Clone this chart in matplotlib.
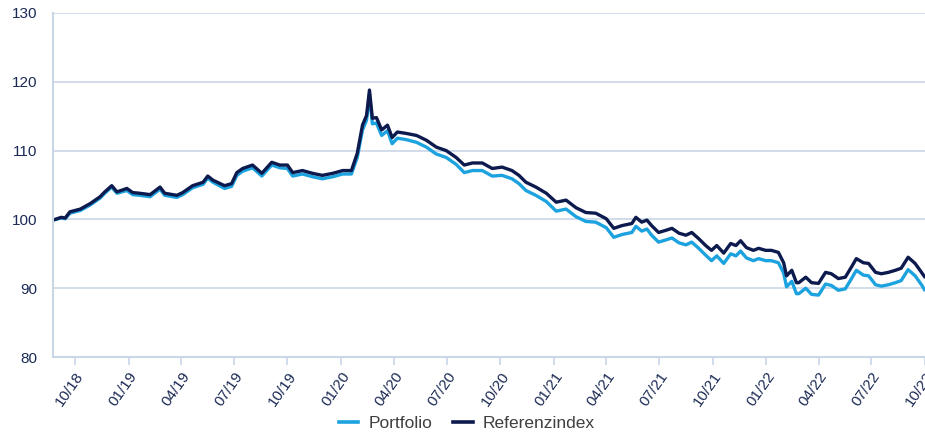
import matplotlib
matplotlib.use("Agg")
import matplotlib.pyplot as plt
import pandas as pd

dates = [
    "2018-08-28", "2018-09-07", "2018-09-14", "2018-09-22", "2018-10-10", "2018-10-27",
    "2018-11-13", "2018-11-21", "2018-12-03", "2018-12-12", "2018-12-29", "2019-01-08",
    "2019-01-20", "2019-02-07", "2019-02-24", "2019-03-04", "2019-03-25", "2019-04-04",
    "2019-04-21", "2019-05-09", "2019-05-17", "2019-05-26", "2019-06-15", "2019-06-27",
    "2019-07-06", "2019-07-16", "2019-08-02", "2019-08-18", "2019-09-04", "2019-09-18",
    "2019-10-01", "2019-10-10", "2019-10-27", "2019-11-13", "2019-11-30", "2019-12-18",
    "2020-01-04", "2020-01-19", "2020-01-29", "2020-02-07", "2020-02-14", "2020-02-19",
    "2020-02-24", "2020-03-02", "2020-03-11", "2020-03-21", "2020-03-29", "2020-04-07",
    "2020-04-22", "2020-05-10", "2020-05-27", "2020-06-13", "2020-06-30", "2020-07-17",
    "2020-07-31", "2020-08-14", "2020-08-31", "2020-09-17", "2020-10-04", "2020-10-21",
    "2020-11-02", "2020-11-14", "2020-12-01", "2020-12-19", "2021-01-05", "2021-01-22",
    "2021-02-08", "2021-02-25", "2021-03-14", "2021-04-01", "2021-04-14", "2021-04-28",
    "2021-05-15", "2021-05-22", "2021-06-01", "2021-06-10", "2021-06-18", "2021-06-30",
    "2021-07-12", "2021-07-23", "2021-08-04", "2021-08-16", "2021-08-26", "2021-09-07",
    "2021-09-19", "2021-09-29", "2021-10-08", "2021-10-20", "2021-11-01", "2021-11-10",
    "2021-11-18", "2021-11-28", "2021-12-10", "2021-12-19", "2021-12-31", "2022-01-10",
    "2022-01-22", "2022-01-31", "2022-02-05", "2022-02-14", "2022-02-22", "2022-02-26",
    "2022-03-10", "2022-03-20", "2022-04-01", "2022-04-13", "2022-04-23", "2022-05-05",
    "2022-05-17", "2022-05-27", "2022-06-05", "2022-06-17", "2022-06-26", "2022-07-08",
    "2022-07-18", "2022-07-30", "2022-08-11", "2022-08-21", "2022-09-02", "2022-09-14",
    "2022-09-25", "2022-09-30",
]

referenzindex = [
    100.0, 100.3, 100.2, 101.1, 101.5, 102.3,
    103.3, 104.0, 104.9, 104.0, 104.5, 103.9,
    103.8, 103.6, 104.7, 103.8, 103.5, 103.9,
    104.9, 105.4, 106.3, 105.7, 104.9, 105.2,
    106.8, 107.4, 107.9, 106.7, 108.3, 107.9,
    107.9, 106.8, 107.1, 106.7, 106.4, 106.7,
    107.1, 107.1, 109.6, 113.7, 115.1, 118.8,
    114.7, 114.8, 113.0, 113.7, 111.9, 112.7,
    112.5, 112.2, 111.5, 110.5, 110.0, 109.0,
    107.9, 108.2, 108.2, 107.4, 107.6, 107.1,
    106.4, 105.4, 104.7, 103.8, 102.5, 102.8,
    101.7, 101.0, 100.9, 100.1, 98.7, 99.1,
    99.4, 100.3, 99.6, 99.9, 99.1, 98.1,
    98.4, 98.7, 98.0, 97.7, 98.1, 97.2,
    96.2, 95.5, 96.2, 95.1, 96.5, 96.2,
    96.9, 95.9, 95.5, 95.8, 95.5, 95.5,
    95.2, 93.7, 91.8, 92.6, 90.8, 90.8,
    91.6, 90.8, 90.7, 92.3, 92.1, 91.4,
    91.6, 93.0, 94.3, 93.7, 93.6, 92.3,
    92.1, 92.3, 92.6, 92.9, 94.5, 93.6,
    92.3, 91.7,
]

portfolio = [
    100.0, 100.2, 100.1, 100.9, 101.3, 102.1,
    103.1, 103.8, 104.7, 103.8, 104.2, 103.6,
    103.5, 103.3, 104.4, 103.5, 103.2, 103.6,
    104.6, 105.1, 106.0, 105.4, 104.5, 104.8,
    106.4, 107.0, 107.5, 106.3, 107.9, 107.5,
    107.4, 106.3, 106.6, 106.2, 105.9, 106.2,
    106.6, 106.6, 109.0, 113.0, 114.4, 118.1,
    113.9, 114.0, 112.2, 112.9, 111.0, 111.8,
    111.6, 111.2, 110.5, 109.5, 109.0, 108.0,
    106.8, 107.1, 107.1, 106.3, 106.4, 105.9,
    105.2, 104.2, 103.5, 102.6, 101.2, 101.5,
    100.4, 99.7, 99.6, 98.8, 97.4, 97.8,
    98.1, 99.0, 98.3, 98.6, 97.7, 96.7,
    97.0, 97.3, 96.6, 96.3, 96.7, 95.8,
    94.8, 94.0, 94.7, 93.6, 95.0, 94.7,
    95.4, 94.4, 94.0, 94.3, 94.0, 94.0,
    93.7, 92.2, 90.2, 91.0, 89.2, 89.2,
    90.0, 89.1, 89.0, 90.6, 90.4, 89.7,
    89.9, 91.3, 92.6, 91.9, 91.8, 90.5,
    90.3, 90.5, 90.8, 91.1, 92.7, 91.8,
    90.5, 89.8,
]

tick_dates = ["2018-10-01", "2019-01-01", "2019-04-01", "2019-07-01", "2019-10-01",
              "2020-01-01", "2020-04-01", "2020-07-01", "2020-10-01", "2021-01-01",
              "2021-04-01", "2021-07-01", "2021-10-01", "2022-01-01", "2022-04-01",
              "2022-07-01", "2022-10-01"]
tick_labels = ["10/18", "01/19", "04/19", "07/19", "10/19", "01/20", "04/20", "07/20",
               "10/20", "01/21", "04/21", "07/21", "10/21", "01/22", "04/22", "07/22", "10/22"]
y_ticks = [80, 90, 100, 110, 120, 130]

plt.rcParams['font.family'] = ['Liberation Sans', 'DejaVu Sans']

c_port = "#1ca3df"
c_ref = "#0c1a4e"
c_grid = "#c9d6e6"
c_text = "#1b2a55"

fig = plt.figure(figsize=(9.25, 4.36), dpi=100)
ax = fig.add_axes([53/925, 1-357/436, 1-53/925, (357-13)/436])

d = pd.to_datetime(dates)
ax.plot(d, portfolio, color=c_port, lw=2.4, label="Portfolio", solid_joinstyle="round")
ax.plot(d, referenzindex, color=c_ref, lw=2.4, label="Referenzindex", solid_joinstyle="round")

ax.set_ylim(80, 130)
ax.set_yticks(y_ticks)
ax.set_xlim(pd.Timestamp("2018-08-24"), pd.Timestamp("2022-10-01"))
ax.set_xticks(pd.to_datetime(tick_dates))
ax.set_xticklabels(tick_labels, rotation=55, ha="right", rotation_mode="anchor")

ax.yaxis.grid(True, color=c_grid, lw=1.2)
ax.set_axisbelow(True)
for s in ["top", "right"]:
    ax.spines[s].set_visible(False)
for s in ["left", "bottom"]:
    ax.spines[s].set_color(c_grid)
    ax.spines[s].set_linewidth(1.5)

ax.tick_params(axis="y", length=0, pad=11, labelsize=11, labelcolor=c_text)
ax.tick_params(axis="x", length=6, width=1.2, color=c_grid, pad=3, labelsize=11, labelcolor=c_text)

leg = fig.legend(loc="lower center", bbox_to_anchor=(0.505, -0.025), ncol=2, frameon=False,
                 fontsize=12.5, handlelength=1.1, columnspacing=1.2, handletextpad=0.6)
for t in leg.get_texts():
    t.set_color("#3f3f3f")
for h in leg.legend_handles:
    h.set_linewidth(2.6)

fig.savefig("out.png", dpi=100)
